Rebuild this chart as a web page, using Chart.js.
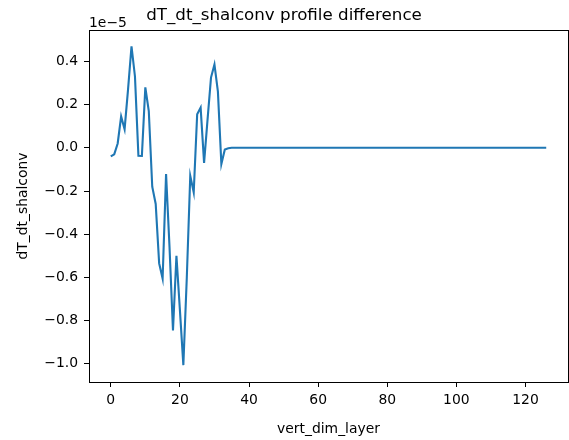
<!DOCTYPE html>
<html>
<head>
<meta charset="utf-8">
<script src="https://cdn.jsdelivr.net/npm/chart.js@4"></script>
<style>
  html, body { margin: 0; padding: 0; background: #fff; }
  canvas { display: block; }
</style>
</head>
<body>
<canvas id="c" width="569" height="440"></canvas>
<script>
// Values of dT_dt_shalconv difference, in units of 1e-5, one per vertical layer (0..126)
const diffE5 = [
  -0.04, -0.03, 0.02, 0.145, 0.086, 0.27, 0.47, 0.33, -0.037, -0.038,
  0.28, 0.17, -0.18, -0.26, -0.535, -0.605, -0.122, -0.46, -0.845, -0.5,
  -0.75, -1.006, -0.6, -0.13, -0.206, 0.155, 0.186, -0.07, 0.13, 0.325,
  0.386, 0.26, -0.075, -0.008, -0.002, 0, 0, 0, 0, 0,
  0, 0, 0, 0, 0, 0, 0, 0, 0, 0,
  0, 0, 0, 0, 0, 0, 0, 0, 0, 0,
  0, 0, 0, 0, 0, 0, 0, 0, 0, 0,
  0, 0, 0, 0, 0, 0, 0, 0, 0, 0,
  0, 0, 0, 0, 0, 0, 0, 0, 0, 0,
  0, 0, 0, 0, 0, 0, 0, 0, 0, 0,
  0, 0, 0, 0, 0, 0, 0, 0, 0, 0,
  0, 0, 0, 0, 0, 0, 0, 0, 0, 0,
  0, 0, 0, 0, 0, 0, 0
];
const xTicks = [0, 20, 40, 60, 80, 100, 120];
const yTicks = [-1.0, -0.8, -0.6, -0.4, -0.2, 0.0, 0.2, 0.4];
const yTickLabels = ['\u22121.0', '\u22120.8', '\u22120.6', '\u22120.4', '\u22120.2', '0.0', '0.2', '0.4'];
const titleText = 'dT_dt_shalconv profile difference';
const xLabel = 'vert_dim_layer';
const yLabel = 'dT_dt_shalconv';
const offsetText = '1e\u22125';

const FONT = 'DejaVu Sans';
const points = diffE5.map((v, i) => ({ x: i, y: v }));

const framePlugin = {
  id: 'frame',
  afterDraw(chart) {
    const { ctx, chartArea: a } = chart;
    ctx.save();
    ctx.strokeStyle = '#000';
    ctx.lineWidth = 1;
    ctx.strokeRect(Math.round(a.left) + 0.5, Math.round(a.top) + 0.5,
      Math.round(a.right - a.left), Math.round(a.bottom - a.top));
    ctx.fillStyle = '#000';
    ctx.font = '13.9px "' + FONT + '"';
    ctx.textAlign = 'left';
    ctx.textBaseline = 'alphabetic';
    ctx.fillText(offsetText, a.left, 27);
    ctx.restore();
  }
};

new Chart(document.getElementById('c'), {
  type: 'line',
  data: {
    datasets: [{
      data: points,
      borderColor: '#1f77b4',
      borderWidth: 2.1,
      pointRadius: 0,
      tension: 0,
      fill: false
    }]
  },
  options: {
    responsive: false,
    animation: false,
    layout: { padding: { left: 0, right: 1, top: 0, bottom: 0 } },
    plugins: {
      legend: { display: false },
      tooltip: { enabled: false },
      title: {
        display: true,
        text: titleText,
        color: '#000',
        font: { family: FONT, size: 16.7, weight: 'normal', lineHeight: 1.2 },
        padding: { top: 6, bottom: 4 }
      }
    },
    scales: {
      x: {
        type: 'linear',
        min: -6.3,
        max: 132.3,
        afterBuildTicks(s) { s.ticks = xTicks.map(v => ({ value: v })); },
        afterFit(s) { s.height = 58; },
        ticks: {
          color: '#000',
          font: { family: FONT, size: 13.9 },
          padding: 5,
          maxRotation: 0,
          autoSkip: false,
          callback: v => String(v)
        },
        grid: { drawOnChartArea: false, drawTicks: true, tickLength: 5, color: '#000' },
        border: { display: true, color: '#000' },
        title: {
          display: true,
          text: xLabel,
          color: '#000',
          font: { family: FONT, size: 13.9, lineHeight: 1.2 },
          padding: { top: 0, bottom: 2.7 }
        }
      },
      y: {
        type: 'linear',
        min: -1.084,
        max: 0.545,
        afterBuildTicks(s) { s.ticks = yTicks.map(v => ({ value: v })); },
        afterFit(s) { s.width = 89; },
        ticks: {
          color: '#000',
          font: { family: FONT, size: 13.9 },
          padding: 6,
          autoSkip: false,
          callback: (v) => {
            const i = yTicks.findIndex(t => Math.abs(t - v) < 1e-9);
            return i >= 0 ? yTickLabels[i] : '';
          }
        },
        grid: { drawOnChartArea: false, drawTicks: true, tickLength: 5, color: '#000' },
        border: { display: true, color: '#000' },
        title: {
          display: true,
          text: yLabel,
          color: '#000',
          font: { family: FONT, size: 13.9, lineHeight: 1.2 },
          padding: { top: 14.7, bottom: 0 }
        }
      }
    }
  },
  plugins: [framePlugin]
});
</script>
</body>
</html>
